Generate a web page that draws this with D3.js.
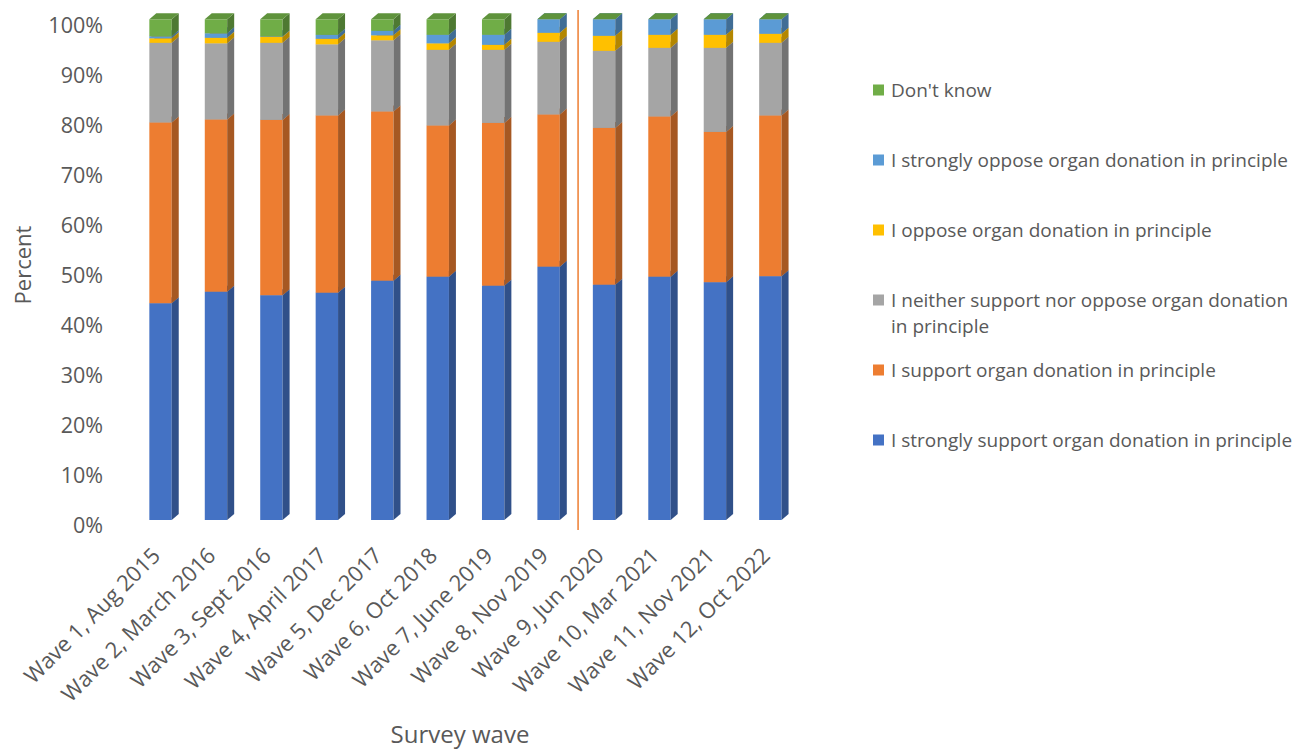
<!DOCTYPE html>
<html>
<head>
<meta charset="utf-8">
<script src="https://cdn.jsdelivr.net/npm/d3@7"></script>
<style>
  html, body { margin: 0; padding: 0; background: #fff; }
  svg { display: block; font-family: "Open Sans", sans-serif; }
</style>
</head>
<body>
<svg id="chart" width="1299" height="750"></svg>
<script>
// Survey waves (categories)
const waves = [
  "Wave 1, Aug 2015", "Wave 2, March 2016", "Wave 3, Sept 2016", "Wave 4, April 2017",
  "Wave 5, Dec 2017", "Wave 6, Oct 2018", "Wave 7, June 2019", "Wave 8, Nov 2019",
  "Wave 9, Jun 2020", "Wave 10, Mar 2021", "Wave 11, Nov 2021", "Wave 12, Oct 2022"
];

// Percent of respondents per answer, one value per wave
const stronglySupport = [43.3, 45.6, 44.9, 45.4, 47.8, 48.6, 46.8, 50.6, 47.0, 48.6, 47.5, 48.7];
const support         = [36.1, 34.4, 35.0, 35.4, 33.8, 30.2, 32.5, 30.4, 31.3, 32.0, 30.0, 32.1];
const neither         = [15.9, 15.2, 15.4, 14.2, 14.2, 15.1, 14.6, 14.5, 15.4, 13.7, 16.8, 14.5];
const oppose          = [0.9, 1.1, 1.2, 1.1, 1.0, 1.3, 1.0, 1.8, 3.0, 2.6, 2.6, 1.8];
const stronglyOppose  = [0.4, 0.9, 0.1, 0.8, 0.9, 1.7, 2.0, 2.7, 3.3, 3.1, 3.1, 2.9];
const dontKnow        = [3.4, 2.8, 3.4, 3.1, 2.3, 3.1, 3.1, 0.0, 0.0, 0.0, 0.0, 0.0];

// Value-axis tick labels
const yTicks = [0, 10, 20, 30, 40, 50, 60, 70, 80, 90, 100];

// Series, bottom of the stack first
const seriesNames = [
  "I strongly support organ donation in principle",
  "I support organ donation in principle",
  "I neither support nor oppose organ donation in principle",
  "I oppose organ donation in principle",
  "I strongly oppose organ donation in principle",
  "Don't know"
];
const seriesValues = [stronglySupport, support, neither, oppose, stronglyOppose, dontKnow];
const seriesColors = ["#4472C4", "#ED7D31", "#A5A5A5", "#FFC000", "#5B9BD5", "#70AD47"];

// Wave after which the separator line is drawn
const separatorAfter = "Wave 8, Nov 2019";

const svg = d3.select("#chart");
const textColor = "#595959";

// Build the stacked table
const table = waves.map((w, i) => {
  const row = { wave: w };
  seriesNames.forEach((s, k) => { row[s] = seriesValues[k][i]; });
  return row;
});
const stack = d3.stack().keys(seriesNames)(table);

// Scales
const x = d3.scaleBand().domain(waves).range([116.3, 814.6]).padding(0.596);
const y = d3.scaleLinear().domain([0, 100]).range([520, 19.3]);
const color = d3.scaleOrdinal().domain(seriesNames).range(seriesColors);

// Oblique depth of the 3D columns
const dx = 7, dy = 6;
const bw = x.bandwidth();

const bars = svg.append("g");
waves.forEach((w, i) => {
  const g = bars.append("g");
  const x0 = x(w), x1 = x0 + bw;
  stack.forEach(layer => {
    const d = layer[i];
    const yb = y(d[0]), yt = y(d[1]);
    const c = d3.color(color(layer.key));
    // front face
    g.append("rect")
      .attr("x", x0).attr("y", yt)
      .attr("width", bw).attr("height", Math.max(0, yb - yt))
      .attr("fill", c.formatHex());
    // side face
    g.append("path")
      .attr("d", `M${x1},${yt}L${x1 + dx},${yt - dy}L${x1 + dx},${yb - dy}L${x1},${yb}Z`)
      .attr("fill", c.darker(1.0).formatHex());
    // top face
    g.append("path")
      .attr("d", `M${x0},${yt}L${x0 + dx},${yt - dy}L${x1 + dx},${yt - dy}L${x1},${yt}Z`)
      .attr("fill", c.darker(0.45).formatHex());
  });
});

// Separator between wave 8 and wave 9
const i8 = waves.indexOf(separatorAfter);
const sepX = (x(waves[i8]) + bw + dx / 2 + x(waves[i8 + 1])) / 2;
svg.append("line")
  .attr("x1", sepX).attr("x2", sepX)
  .attr("y1", 10).attr("y2", 530)
  .attr("stroke", "#ED7D31").attr("stroke-width", 1.5);

// Value axis
const yAxis = svg.append("g")
  .attr("transform", "translate(103,6)")
  .call(d3.axisLeft(y).tickValues(yTicks).tickSize(0).tickPadding(0).tickFormat(d => d + "%"));
yAxis.select(".domain").remove();
yAxis.selectAll("text")
  .attr("fill", textColor)
  .style("font-size", "21.5px")
  .style("font-family", "'Open Sans', sans-serif");

// Category labels, rotated
svg.append("g").selectAll("text")
  .data(waves)
  .join("text")
  .attr("transform", d => `translate(${x(d) + bw / 2 + 1},${557}) rotate(-45)`)
  .attr("text-anchor", "end")
  .attr("fill", textColor)
  .style("font-size", "22px")
  .text(d => d);

// Axis titles
svg.append("text")
  .attr("transform", "translate(31,265) rotate(-90)")
  .attr("text-anchor", "middle")
  .attr("fill", textColor)
  .style("font-size", "22px")
  .text("Percent");

svg.append("text")
  .attr("x", 460).attr("y", 743)
  .attr("text-anchor", "middle")
  .attr("fill", textColor)
  .style("font-size", "24px")
  .text("Survey wave");

// Legend, top entry first
const legendItems = [
  { key: "Don't know", lines: ["Don't know"], y: 90 },
  { key: "I strongly oppose organ donation in principle", lines: ["I strongly oppose organ donation in principle"], y: 160 },
  { key: "I oppose organ donation in principle", lines: ["I oppose organ donation in principle"], y: 230 },
  { key: "I neither support nor oppose organ donation in principle", lines: ["I neither support nor oppose organ donation", "in principle"], y: 300 },
  { key: "I support organ donation in principle", lines: ["I support organ donation in principle"], y: 370 },
  { key: "I strongly support organ donation in principle", lines: ["I strongly support organ donation in principle"], y: 440 }
];
const legend = svg.append("g");
legendItems.forEach(it => {
  legend.append("rect")
    .attr("x", 873).attr("y", it.y - 5.5)
    .attr("width", 11).attr("height", 11)
    .attr("fill", color(it.key));
  const t = legend.append("text")
    .attr("x", 891).attr("y", it.y)
    .attr("fill", textColor)
    .style("font-size", "19px");
  it.lines.forEach((ln, j) => {
    t.append("tspan").attr("x", 891).attr("dy", j === 0 ? "0.35em" : "26.7px").text(ln);
  });
});
</script>
</body>
</html>
